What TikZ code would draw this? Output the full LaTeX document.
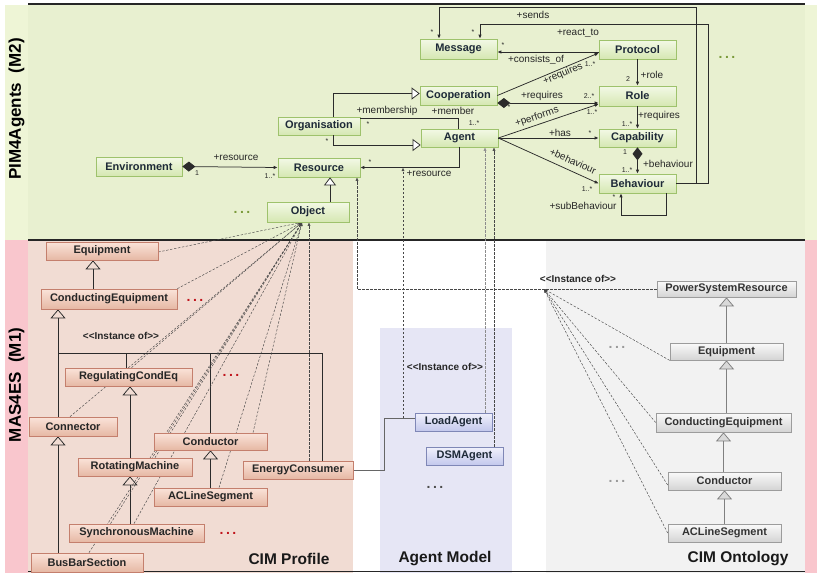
\documentclass[tikz,border=0pt]{standalone}
\usepackage{fontspec}
\setmainfont{Liberation Sans}[Ligatures=TeXOff]
\usetikzlibrary{arrows.meta}

\pgfdeclarelayer{bg}
\pgfdeclarelayer{under}
\pgfsetlayers{bg,under,main}

\definecolor{mtwobg}{HTML}{E8F0D0}
\definecolor{mtwoside}{HTML}{EEF5D6}
\definecolor{monside}{HTML}{F9C6CD}
\definecolor{profbg}{HTML}{F1DCD3}
\definecolor{agentbg}{HTML}{E6E6F5}
\definecolor{ontobg}{HTML}{F2F2F2}
\definecolor{gtop}{HTML}{F3F9E6}
\definecolor{gbot}{HTML}{D5E7B2}
\definecolor{gedge}{HTML}{9EC26C}
\definecolor{gtext}{HTML}{1E2A38}
\definecolor{ptop}{HTML}{FAE3D9}
\definecolor{pbot}{HTML}{E6B8A4}
\definecolor{pedge}{HTML}{C47F6D}
\definecolor{atop}{HTML}{F1F1FC}
\definecolor{abot}{HTML}{C3C8EC}
\definecolor{aedge}{HTML}{7F87B6}
\definecolor{otop}{HTML}{FAFAFA}
\definecolor{obot}{HTML}{D4D4D4}
\definecolor{oedge}{HTML}{9C9C9C}
\definecolor{olivedots}{HTML}{7A9A3A}
\definecolor{reddots}{HTML}{C0141C}
\definecolor{inkline}{HTML}{2B2B2B}

\tikzset{
  wh/.style 2 args={minimum width=#1pt, minimum height=#2pt},
  boxbase/.style={inner sep=0pt, line width=0.7pt, font=\bfseries\fontsize{11}{12}\selectfont},
  mtwobox/.style={boxbase, draw=gedge, top color=gtop, bottom color=gbot, text=gtext},
  profbox/.style={boxbase, draw=pedge, top color=ptop, bottom color=pbot, text=black!85},
  agentbox/.style={boxbase, draw=aedge, top color=atop, bottom color=abot, text=gtext},
  ontobox/.style={boxbase, draw=oedge, top color=otop, bottom color=obot, text=black!80},
  assoc/.style={draw=inkline, line width=0.75pt, -{Latex[length=4pt,width=3.5pt]}},
  plainassoc/.style={draw=inkline, line width=0.75pt},
  comp/.style={draw=inkline, line width=0.75pt, {Diamond[length=13pt,width=10pt]}-{Latex[length=4pt,width=3.5pt]}},
  genw/.style={draw=inkline, line width=0.75pt, -{Triangle[fill=white,length=8pt,width=12pt]}},
  genp/.style={draw=inkline, line width=0.75pt, -{Triangle[fill=profbg,length=9pt,width=15pt]}},
  geno/.style={draw=black!50, line width=0.75pt, -{Triangle[fill=black!15,length=9pt,width=15pt]}},
  treeline/.style={draw=inkline, line width=0.75pt},
  inst/.style={draw=black!72, line width=0.45pt, dash pattern=on 2.4pt off 1.6pt},
  insta/.style={inst, -{Latex[length=3.5pt,width=3pt]}},
  lbl/.style={inner sep=0pt, font=\fontsize{10}{11}\selectfont, text=black!85},
  mult/.style={inner sep=0pt, font=\fontsize{7}{8}\selectfont, text=black!85},
  stereo/.style={inner sep=0pt, font=\bfseries\fontsize{10}{11}\selectfont, text=black!85},
  secttitle/.style={inner sep=0pt, font=\bfseries\fontsize{15.5}{16}\selectfont, text=black!90},
  sidetitle/.style={inner sep=0pt, font=\bfseries\fontsize{17}{18}\selectfont, rotate=90},
  dotrow/.style={inner sep=0pt, font=\bfseries\fontsize{14}{14}\selectfont},
}

\begin{document}
\begin{tikzpicture}[x=1pt,y=-1pt]
\useasboundingbox (0,0) rectangle (817,573);

% ---------- panels ----------
\begin{pgfonlayer}{bg}
  \fill[white] (0,0) rectangle (817,573);
  \fill[mtwoside] (5,5) rectangle (28,240);
  \fill[mtwobg] (28,5) rectangle (805,240);
  \fill[mtwoside] (805,5) rectangle (817,240);
  \fill[monside] (5,240) rectangle (28,573);
  \fill[monside] (805,240) rectangle (817,573);
  \fill[profbg] (28,240) rectangle (353,573);
  \fill[agentbg] (380,328) rectangle (512,573);
  \fill[ontobg] (546,241) rectangle (805,573);
  \draw[line width=2pt, black!85] (28,4) -- (805,4);
  \draw[line width=1.3pt, black!85] (28,240) -- (805,240);
  \draw[line width=1.3pt, black!85] (28,571.5) -- (805,571.5);
\end{pgfonlayer}

\node[sidetitle] (mtwotitle) at (16.5,109) {PIM4Agents\ \ (M2)};
\node[sidetitle] (monetitle) at (16.5,385) {MAS4ES\ \ (M1)};

% ---------- PIM4Agents metamodel ----------
\node[mtwobox, wh={77}{20}] (msg) at (458.5,49) {Message};
\node[mtwobox, wh={77}{19}] (proto) at (637.5,49.5) {Protocol};
\node[mtwobox, wh={77}{19}] (coop) at (458.5,95.5) {Cooperation};
\node[mtwobox, wh={77}{20}] (role) at (637.5,96) {Role};
\node[mtwobox, wh={77}{18}] (agent) at (459.5,138) {Agent};
\node[mtwobox, wh={77}{18}] (cap) at (637.5,138) {Capability};
\node[mtwobox, wh={77}{19}] (beh) at (637.5,183.5) {Behaviour};
\node[mtwobox, wh={82}{18}] (org) at (319,126) {Organisation};
\node[mtwobox, wh={82}{19}] (res) at (319,167.5) {Resource};
\node[mtwobox, wh={82}{20}] (obj) at (308,212) {Object};
\node[mtwobox, wh={86}{19}] (env) at (139,166.5) {Environment};

\node[dotrow, text=olivedots] (dotsa) at (242,212) {.\kern2.5pt.\kern2.5pt.};
\node[dotrow, text=olivedots] (dotsb) at (727,57) {.\kern2.5pt.\kern2.5pt.};

\coordinate (sendsfork) at (696,183.5);
\draw[assoc] (beh.east) -- (708,183.5) -- (708,24) -| ([xshift=21.5pt]msg.north);
\draw[assoc] (sendsfork) -- (696,7) -| ([xshift=-19.5pt]msg.north);
\draw[assoc] ([yshift=-2.5pt]proto.west) -- ([yshift=-3pt]msg.east);
\draw[assoc] (proto.south) -- (role.north);
\draw[assoc] (role.south) -- (cap.north);
\draw[comp] (cap.south) -- (beh.north);
\draw[assoc] ([xshift=28.5pt]beh.south) -- ++(0,22) -| ([xshift=-16.5pt]beh.south);
\draw[assoc] (coop.east) -- ([yshift=-3.5pt]proto.west);
\draw[comp] ([yshift=-7.5pt]coop.east) -- ([yshift=-7pt]role.west);
\draw[assoc] (agent.east) -- ([yshift=-8pt]role.west);
\draw[assoc] (agent.east) -- (cap.west);
\draw[assoc] (agent.east) -- (beh.west);
\draw[genw] ([xshift=14pt]org.north) |- ([yshift=2pt]coop.west);
\draw[genw] ([xshift=14pt]org.south) |- ([yshift=-7pt]agent.west);
\draw[plainassoc] ([yshift=8pt]org.east) -| ([xshift=-1.5pt]agent.north);
\draw[assoc] ([xshift=-0.5pt]agent.south) |- (res.east);
\draw[comp] (env.east) -- (res.west);
\draw[genw] ([xshift=22pt]obj.north) -- ([xshift=11pt]res.south);

% association labels
\node[lbl] (lsends) at (533,15) {+sends};
\node[mult] (msa) at (432,32) {*};
\node[mult] (msb) at (473,32) {*};
\node[lbl] (lreact) at (578,33) {+react\_to};
\node[mult] (mcons) at (503,45) {*};
\node[lbl] (lcons) at (536,60) {+consists\_of};
\node[lbl, rotate=22.6] (lreqa) at (563,74) {+requires};
\node[mult] (mreqa) at (590,64) {1..*};
\node[lbl] (lreqb) at (542,96) {+requires};
\node[mult] (mreqb) at (589,96) {2..*};
\node[mult] (mreqc) at (509,107) {*};
\node[lbl, rotate=18.6] (lperf) at (537,117) {+performs};
\node[mult] (mperf) at (592,112) {1..*};
\node[lbl] (lhas) at (560,133) {+has};
\node[mult] (mhas) at (590,133) {*};
\node[lbl, rotate=-24] (lbeha) at (573,161) {+behaviour};
\node[mult] (mbeha) at (587,189) {1..*};
\node[mult] (mrole) at (628,79) {2};
\node[lbl] (lrole) at (652,75) {+role};
\node[lbl] (lreqd) at (659,116) {+requires};
\node[mult] (mreqd) at (627,124) {1..*};
\node[mult] (mbehb) at (625,152) {1};
\node[lbl] (lbehb) at (668,164) {+behaviour};
\node[mult] (mbehc) at (627,170) {1..*};
\node[mult] (msub) at (614,197) {*};
\node[lbl] (lsub) at (583,206) {+subBehaviour};
\node[lbl] (lmembership) at (387,111) {+membership};
\node[lbl] (lmember) at (453,111) {+member};
\node[mult] (mmema) at (368,124) {*};
\node[mult] (mmemb) at (474,123) {1..*};
\node[mult] (morg) at (327,141) {*};
\node[mult] (mres) at (370,162) {*};
\node[lbl] (lresa) at (429,174) {+resource};
\node[lbl] (lresb) at (236,158) {+resource};
\node[mult] (menv) at (197,173) {1};
\node[mult] (mresb) at (270,176) {1..*};

% ---------- CIM profile ----------
\node[profbox, wh={112}{18}] (peq) at (102,251) {Equipment};
\node[profbox, wh={136}{20}] (pce) at (109,299) {ConductingEquipment};
\node[profbox, wh={127}{18}] (prce) at (128.5,377) {RegulatingCondEq};
\node[profbox, wh={88}{19}] (pconn) at (73,426.5) {Connector};
\node[profbox, wh={113}{17}] (pcond) at (210.5,441.5) {Conductor};
\node[profbox, wh={114}{18}] (prm) at (135,467) {RotatingMachine};
\node[profbox, wh={110}{18}] (pec) at (298,470) {EnergyConsumer};
\node[profbox, wh={113}{18}] (pacl) at (210.5,497) {ACLineSegment};
\node[profbox, wh={135}{18}] (psm) at (136.5,533) {SynchronousMachine};
\node[profbox, wh={112}{19}] (pbbs) at (87,562.5) {BusBarSection};

\node[dotrow, text=reddots] (dotsc) at (195,300) {.\kern2.5pt.\kern2.5pt.};
\node[dotrow, text=reddots] (dotsd) at (231,375) {.\kern2.5pt.\kern2.5pt.};
\node[dotrow, text=reddots] (dotse) at (228,533) {.\kern2.5pt.\kern2.5pt.};
\node[stereo] (stprof) at (121,336) {<<Instance of>>};
\node[secttitle] (tprof) at (289,559) {CIM Profile};

\begin{pgfonlayer}{under}
  \draw[genp] ([xshift=-16pt]pce.north) -- ([xshift=-9pt]peq.south);
  \coordinate (treebar) at (58,353);
  \draw[genp] ([xshift=-15pt]pconn.north) -- ([xshift=-51pt]pce.south);
  \draw[treeline] (treebar) -| ([xshift=24pt]pec.north);
  \draw[treeline] ([xshift=-2.5pt]prce.north) -- ([xshift=-2.5pt]prce.north |- treebar);
  \draw[treeline] (pcond.north) -- (pcond.north |- treebar);
  \draw[genp] ([xshift=-5pt]prm.north) -- ([xshift=1.5pt]prce.south);
  \draw[genp] ([xshift=-6.5pt]psm.north) -- ([xshift=-5pt]prm.south);
  \draw[genp] (pacl.north) -- (pcond.south);
  \draw[genp] ([xshift=-29pt]pbbs.north) -- ([xshift=-15pt]pconn.south);

  % instance-of links into Object
  \coordinate (hubR) at ([xshift=-6pt]obj.south);
  \draw[insta] ([yshift=-1pt]peq.east) -- (hubR);
  \draw[insta] (pce.north east) -- (hubR);
  \draw[insta] ([xshift=3pt]prce.north) -- (hubR);
  \draw[insta] ([xshift=-3pt]pconn.north) -- (hubR);
  \draw[insta] ([xshift=20pt]prm.north) -- (hubR);
  \draw[insta] ([xshift=-26pt]psm.north) -- (hubR);
  \draw[insta] ([xshift=-2.5pt]psm.north) -- (hubR);
  \draw[insta] ([xshift=2pt]pbbs.north) -- (hubR);
  \draw[insta] ([xshift=42.5pt]pcond.north) -- (hubR);
  \draw[insta] ([xshift=8.5pt]pacl.north) -- (hubR);
  \draw[insta] ([xshift=11pt]pec.north) -- ([xshift=1pt]obj.south);
\end{pgfonlayer}

% ---------- agent model ----------
\node[agentbox, wh={77}{18}] (la) at (453.5,422) {LoadAgent};
\node[agentbox, wh={77}{18}] (dsm) at (464.5,456) {DSMAgent};
\node[dotrow, text=black!70] (dotsf) at (435,487) {.\kern2.5pt.\kern2.5pt.};
\node[stereo] (stagent) at (445,367) {<<Instance of>>};
\node[secttitle] (tagent) at (445,559) {Agent Model};

\begin{pgfonlayer}{under}
  \draw[insta, draw=black!45] ([xshift=31.5pt]la.north) -- ([xshift=25.5pt]agent.south);
  \draw[insta] ([xshift=29.5pt]dsm.north) -- ([xshift=34.5pt]agent.south);
  \coordinate (lajoin) at (403,418);
  \draw[insta] (lajoin) -- (lajoin |- res.east);
  \draw[draw=black!60, line width=0.7pt] (pec.east) -- (384,470) |- ([yshift=4pt]la.west);
\end{pgfonlayer}

% ---------- CIM ontology ----------
\node[ontobox, wh={139}{16}] (opsr) at (726.5,289) {PowerSystemResource};
\node[ontobox, wh={113}{17}] (oeq) at (726.5,351.5) {Equipment};
\node[ontobox, wh={135}{19}] (oce) at (723.5,422.5) {ConductingEquipment};
\node[ontobox, wh={113}{18}] (ocond) at (724.5,481) {Conductor};
\node[ontobox, wh={113}{18}] (oacl) at (724.5,533) {ACLineSegment};
\node[dotrow, text=black!40] (dotsg) at (617,347) {.\kern2.5pt.\kern2.5pt.};
\node[dotrow, text=black!40] (dotsh) at (617,481) {.\kern2.5pt.\kern2.5pt.};
\node[stereo] (stonto) at (578,279) {<<Instance of>>};
\node[secttitle] (tonto) at (738,559) {CIM Ontology};

\begin{pgfonlayer}{under}
  \draw[geno] (oeq.north) -- (opsr.south);
  \draw[geno] (oce.north -| oeq.south) -- (oeq.south);
  \draw[geno] (ocond.north -| oce.south) -- (oce.south);
  \draw[geno] (oacl.north) -- (ocond.south);

  \coordinate (hubO) at (544,289);
  \draw[insta] (oeq.south west) -- (hubO);
  \draw[insta] (oce.west) -- (hubO);
  \draw[insta] ([yshift=-4pt]ocond.west) -- (hubO);
  \draw[insta] (oacl.west) -- (hubO);
  \coordinate (rescorner) at (357,289);
  \draw[insta] (opsr.west) -- (rescorner) -- (rescorner |- res.south);
\end{pgfonlayer}
\end{tikzpicture}
\end{document}
